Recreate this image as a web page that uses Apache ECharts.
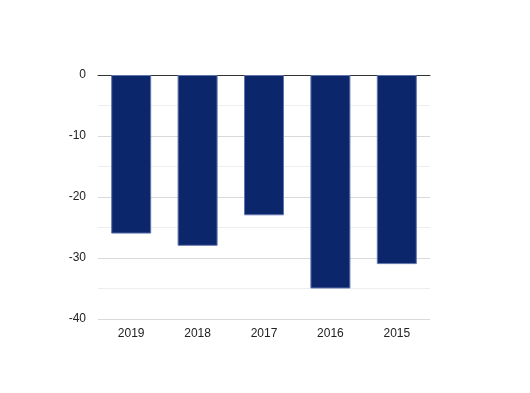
<!DOCTYPE html>
<html><head><meta charset="utf-8">
<script src="https://cdn.jsdelivr.net/npm/echarts@6/dist/echarts.min.js"></script>
<style>html,body{margin:0;padding:0;background:#fff}#c{width:530px;height:393px}</style>
</head><body><div id="c"></div>
<script>
const categories = ['2019','2018','2017','2016','2015'];
const values = [-26, -28, -23, -35, -31];
const yTicks = [0, -10, -20, -30, -40];

const chart = echarts.init(document.getElementById('c'), null, {renderer:'canvas'});
chart.setOption({
  animation:false,
  backgroundColor:'#fff',
  grid:{left:98, right:100, top:75, bottom:74},
  xAxis:[{
    type:'category', data:categories, position:'bottom',
    axisLine:{show:false, onZero:false}, axisTick:{show:false},
    axisLabel:{color:'#222', fontSize:12, fontFamily:'Liberation Sans, Arial, sans-serif', margin:9}
  },{
    type:'category', data:categories, position:'top',
    axisLine:{show:true, onZero:false, lineStyle:{color:'#333', width:1}},
    axisTick:{show:false}, axisLabel:{show:false}
  }],
  yAxis:{
    type:'value', min:yTicks[yTicks.length-1], max:yTicks[0], interval:10,
    axisLine:{show:false}, axisTick:{show:false},
    axisLabel:{color:'#222', fontSize:12, fontFamily:'Liberation Sans, Arial, sans-serif', margin:12},
    splitLine:{lineStyle:{color:'#d9d9d9', width:1}},
    minorTick:{show:false, splitNumber:2},
    minorSplitLine:{show:true, lineStyle:{color:'#eeeeee', width:1}}
  },
  series:[{
    type:'bar', data:values, barWidth:40,
    itemStyle:{color:'#0c266c', borderColor:'#6275ad', borderWidth:1}
  }]
});
</script></body></html>
